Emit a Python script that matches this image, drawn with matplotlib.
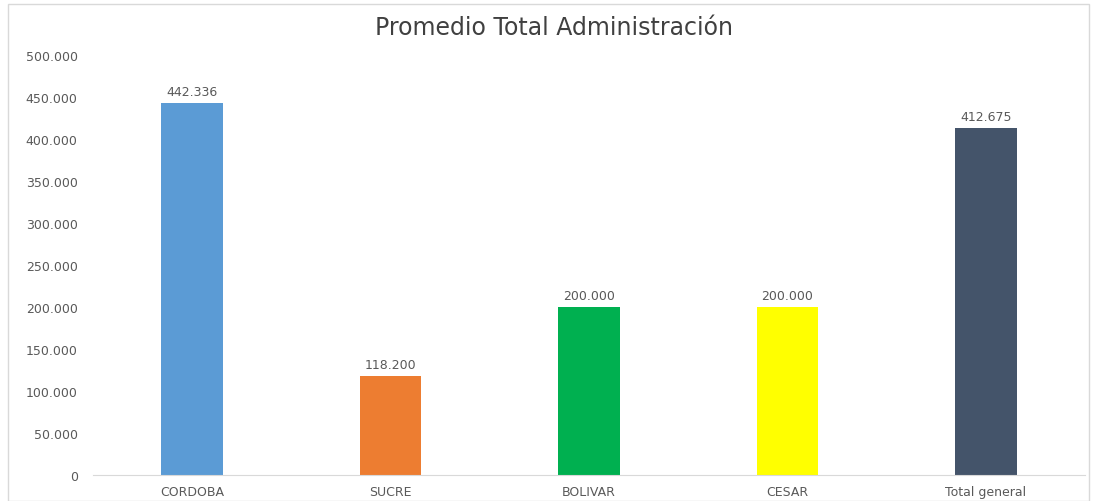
import matplotlib
matplotlib.use("Agg")
import matplotlib.pyplot as plt
from matplotlib.patches import Rectangle
from matplotlib.ticker import FuncFormatter

categories = ["CORDOBA", "SUCRE", "BOLIVAR", "CESAR", "Total general"]
values = [442336, 118200, 200000, 200000, 412675]
labels = ["442.336", "118.200", "200.000", "200.000", "412.675"]
colors = ["#5B9BD5", "#ED7D31", "#00B050", "#FFFF00", "#44546A"]
title = "Promedio Total Administración"

plt.rcParams['font.family'] = ['DejaVu Sans']

W, H = 1093, 502
fig = plt.figure(figsize=(W/100, H/100), dpi=100)
ax = fig.add_axes([93/W, 1-476/H, (1085-93)/W, (476-56)/H])

x = range(len(categories))
ax.bar(x, values, width=0.31, color=colors)
for xi, v, lab in zip(x, values, labels):
    ax.text(xi, v + 6000, lab, ha='center', va='bottom', fontsize=9, color='#595959')

ax.set_xlim(-0.5, len(categories) - 0.5)
ax.set_ylim(0, 500000)
ax.set_yticks(range(0, 500001, 50000))
ax.yaxis.set_major_formatter(FuncFormatter(lambda v, p: f"{int(v):,}".replace(",", ".")))
ax.set_xticks(list(x))
ax.set_xticklabels(categories)
ax.tick_params(axis='both', length=0, labelsize=9, colors='#595959')
ax.tick_params(axis='y', pad=11)
ax.tick_params(axis='x', pad=7)
for s in ['top', 'right', 'left']:
    ax.spines[s].set_visible(False)
ax.spines['bottom'].set_color('#D9D9D9')

fig.text(554/W, 1-28/H, title, ha='center', va='center', fontsize=17, color='#404040')

fig.patches.append(Rectangle((8/W, 0), (1089-8)/W, 1-5/H, transform=fig.transFigure,
                             fill=False, edgecolor='#D9D9D9', linewidth=1))

fig.savefig("out.png", dpi=100)
